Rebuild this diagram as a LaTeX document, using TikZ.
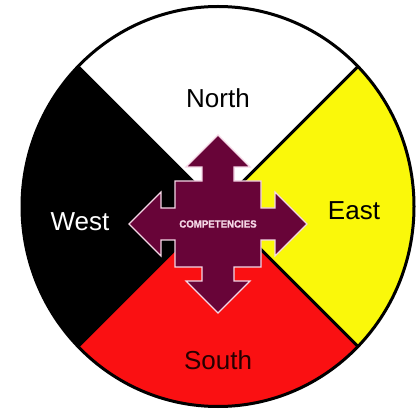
\documentclass[tikz,border=0pt]{standalone}
\usepackage{fontspec}
\setmainfont{Liberation Sans}
\newfontfamily\compfont[FakeBold=1.2]{Liberation Sans Bold}
\definecolor{maroon}{RGB}{104,4,56}
\definecolor{wyellow}{RGB}{250,248,10}
\definecolor{wred}{RGB}{250,16,18}
\definecolor{rim}{RGB}{245,215,230}
\begin{document}
\begin{tikzpicture}[x=1pt,y=-1pt,
  dirlabel/.style={font=\fontsize{26}{30}\selectfont,inner sep=0pt},
  divline/.style={line width=3pt,black}]
\useasboundingbox (0,0) rectangle (420,411);
\coordinate (c) at (218,206.5);
\begin{scope}
  \clip (c) ellipse [x radius=196, y radius=200];
  \fill[white] (c) -- ++(-300,-300) -- ++(600,0) -- cycle;
  \fill[wyellow] (c) -- ++(300,-300) -- ++(0,600) -- cycle;
  \fill[wred] (c) -- ++(300,300) -- ++(-600,0) -- cycle;
  \fill[black] (c) -- ++(-300,300) -- ++(0,-600) -- cycle;
  \draw[divline] (c) -- ++(-300,-300);
  \draw[divline] (c) -- ++(300,-300);
  \draw[divline] (c) -- ++(300,300);
  \draw[divline] (c) -- ++(-300,300);
\end{scope}
\draw[line width=3pt] (c) ellipse [x radius=196, y radius=200];
\def\s{43}\def\w{16}\def\e{57}\def\h{32}\def\t{89}
\begin{scope}[shift={(218,224)}]
\filldraw[fill=maroon,draw=rim,line width=1.2pt,line join=miter]
 (0,-\t) -- (\h,-\e) -- (\w,-\e) -- (\w,-\s) -- (\s,-\s) -- (\s,-\w) -- (\e,-\w) -- (\e,-\h)
 -- (\t,0) -- (\e,\h) -- (\e,\w) -- (\s,\w) -- (\s,\s) -- (\w,\s) -- (\w,\e) -- (\h,\e)
 -- (0,\t) -- (-\h,\e) -- (-\w,\e) -- (-\w,\s) -- (-\s,\s) -- (-\s,\w) -- (-\e,\w) -- (-\e,\h)
 -- (-\t,0) -- (-\e,-\h) -- (-\e,-\w) -- (-\s,-\w) -- (-\s,-\s) -- (-\w,-\s) -- (-\w,-\e) -- (-\h,-\e) -- cycle;
\end{scope}
\node[font=\compfont\fontsize{10.5}{12}\selectfont,text=rim,inner sep=0pt,xscale=0.92] (comp) at (218,224) {COMPETENCIES};
\node[dirlabel] (north) at (218,98) {North};
\node[dirlabel,text=white] (west) at (80,222) {West};
\node[dirlabel] (east) at (354,211) {East};
\node[dirlabel,text=black!85!red] (south) at (218,360) {South};
\end{tikzpicture}
\end{document}
